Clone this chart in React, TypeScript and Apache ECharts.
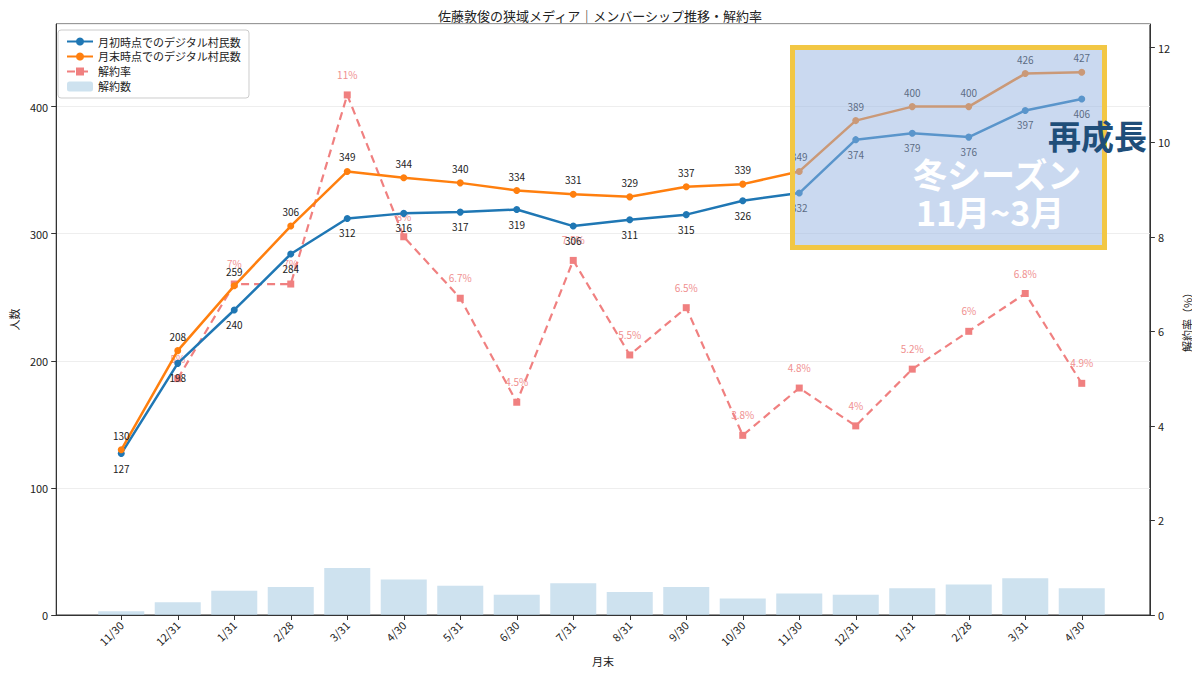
import { useEffect, useRef } from "react";
import * as echarts from "echarts";

const months = ["11/30", "12/31", "1/31", "2/28", "3/31", "4/30", "5/31", "6/30", "7/31", "8/31", "9/30", "10/30", "11/30", "12/31", "1/31", "2/28", "3/31", "4/30"];
const startMembers = [127, 198, 240, 284, 312, 316, 317, 319, 306, 311, 315, 326, 332, 374, 379, 376, 397, 406];
const endMembers = [130, 208, 259, 306, 349, 344, 340, 334, 331, 329, 337, 339, 349, 389, 400, 400, 426, 427];
const churnRate = [null, 5, 7, 7, 11, 8, 6.7, 4.5, 7.5, 5.5, 6.5, 3.8, 4.8, 4, 5.2, 6, 6.8, 4.9];
const churnCount = [3, 10, 19, 22, 37, 28, 23, 16, 25, 18, 22, 13, 17, 16, 21, 24, 29, 21];

const FONT = "'Noto Sans CJK JP', 'Noto Sans', sans-serif";

const App = () => {
	const chartRef = useRef<HTMLDivElement>(null);

	useEffect(() => {
		if (!chartRef.current) return;
		const chart = echarts.init(chartRef.current, undefined, { renderer: "svg" });

		const option = {
			animation: false,
			textStyle: { fontFamily: FONT },
			title: {
				text: "佐藤敦俊の狭域メディア｜メンバーシップ推移・解約率",
				left: "center",
				top: 4,
				textStyle: { fontSize: 13, fontWeight: "normal", color: "#222", fontFamily: FONT },
			},
			legend: {
				orient: "vertical",
				left: 58,
				top: 30,
				itemGap: 4,
				itemWidth: 26,
				itemHeight: 10,
				padding: [6, 8],
				borderColor: "#ccc",
				borderWidth: 1,
				borderRadius: 3,
				backgroundColor: "rgba(255,255,255,0.9)",
				textStyle: { fontSize: 11, color: "#222" },
				data: ["月初時点でのデジタル村民数", "月末時点でのデジタル村民数", "解約率", "解約数"],
			},
			grid: [
				{ left: 56, right: 40, top: 24, bottom: 60, show: true, borderColor: "#333", borderWidth: 1, backgroundColor: "transparent" },
				{ left: 93, right: 90, top: 24, bottom: 60 },
			],
			xAxis: [
				{
					gridIndex: 0, type: "value", min: 0, max: 1,
					axisLabel: { show: false }, axisTick: { show: false }, splitLine: { show: false },
					axisLine: { show: true, lineStyle: { color: "#333" } },
					name: "月末", nameLocation: "middle", nameGap: 40,
					nameTextStyle: { fontSize: 11, color: "#222" },
				},
				{
					gridIndex: 1, type: "category", data: months,
					axisLine: { show: false },
					axisTick: { show: true, alignWithLabel: true, lineStyle: { color: "#333" } },
					axisLabel: { rotate: 45, fontSize: 11, color: "#222", interval: 0 },
				},
			],
			yAxis: [
				{
					gridIndex: 0, type: "value", min: 0, max: 465, interval: 100,
					axisLine: { show: true, lineStyle: { color: "#333" } },
					axisTick: { show: true },
					axisLabel: { fontSize: 11, color: "#222", showMaxLabel: false },
					splitLine: { lineStyle: { color: "#eee" } },
					name: "人数", nameLocation: "middle", nameGap: 36, nameRotate: 90,
					nameTextStyle: { fontSize: 11, color: "#222" },
				},
				{
					gridIndex: 0, type: "value", min: 0, max: 12.5, interval: 2, position: "right",
					axisLine: { show: true, lineStyle: { color: "#333" } },
					axisTick: { show: true },
					axisLabel: { fontSize: 11, color: "#222", showMaxLabel: false },
					splitLine: { show: false },
					name: "解約率（%）", nameLocation: "middle", nameGap: 26, nameRotate: 90,
					nameTextStyle: { fontSize: 11, color: "#222" },
				},
				{ gridIndex: 1, type: "value", min: 0, max: 465, show: false },
				{ gridIndex: 1, type: "value", min: 0, max: 12.5, show: false },
			],
			series: [
				{ type: "line", xAxisIndex: 0, yAxisIndex: 0, data: [], silent: true },
				{
					name: "解約数", type: "bar", xAxisIndex: 1, yAxisIndex: 2, data: churnCount,
					barWidth: 46, itemStyle: { color: "rgba(180,210,230,0.65)" }, z: 1,
				},
				{
					name: "月初時点でのデジタル村民数", type: "line", xAxisIndex: 1, yAxisIndex: 2, data: startMembers,
					symbol: "circle", symbolSize: 7, itemStyle: { color: "#1f77b4" }, lineStyle: { width: 2.5, color: "#1f77b4" },
					label: { show: true, position: "bottom", distance: 6, fontSize: 10, color: "#222" }, z: 4,
				},
				{
					name: "月末時点でのデジタル村民数", type: "line", xAxisIndex: 1, yAxisIndex: 2, data: endMembers,
					symbol: "circle", symbolSize: 7, itemStyle: { color: "#ff7f0e" }, lineStyle: { width: 2.5, color: "#ff7f0e" },
					label: { show: true, position: "top", distance: 6, fontSize: 10, color: "#222" }, z: 4,
				},
				{
					name: "解約率", type: "line", xAxisIndex: 1, yAxisIndex: 3, data: churnRate,
					symbol: "rect", symbolSize: 7, itemStyle: { color: "#f08080" },
					lineStyle: { width: 2.2, type: [8, 5], color: "#f08080" },
					label: { show: true, position: "top", distance: 12, fontSize: 10, color: "#f09090", formatter: (p: any) => `${p.value}%` },
					z: 3,
				},
			],
			graphic: [
				{
					type: "rect", left: 790, top: 45, z: 100,
					shape: { width: 312, height: 200 },
					style: { fill: "rgba(150,180,225,0.5)", stroke: "#f2c744", lineWidth: 5 },
				},
				{
					type: "text", left: 913, top: 156, z: 101,
					style: { text: "冬シーズン", fill: "#ffffff", font: `bold 34px ${FONT}` },
				},
				{
					type: "text", left: 916, top: 194, z: 101,
					style: { text: "11月~3月", fill: "#ffffff", font: `bold 34px ${FONT}` },
				},
				{
					type: "text", left: 1048, top: 118, z: 101,
					style: { text: "再成長", fill: "#1f4e79", font: `bold 33px ${FONT}` },
				},
			],
		};

		chart.setOption(option);
		return () => chart.dispose();
	}, []);

	return <div ref={chartRef} style={{ width: 1200, height: 675, margin: -8 }} />;
};

export default App;
